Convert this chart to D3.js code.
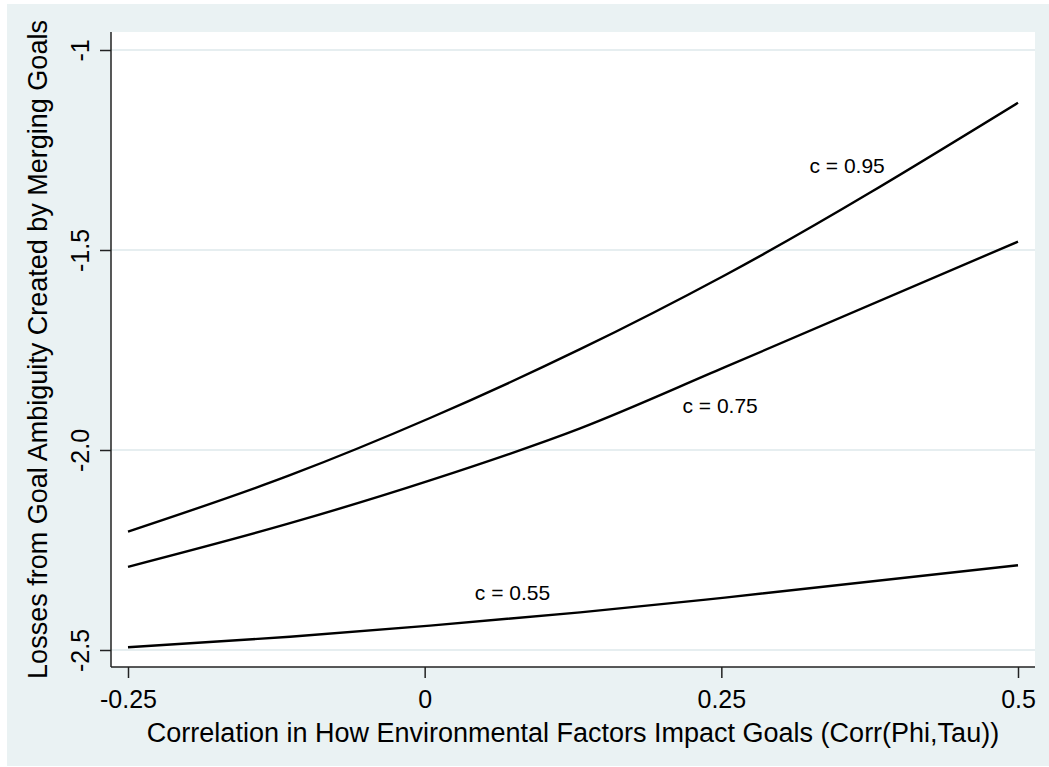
<!DOCTYPE html>
<html lang="en">
<head>
    <meta charset="UTF-8">
    <title>Losses from Goal Ambiguity</title>
    <script type="text/javascript" src="https://cdn.jsdelivr.net/npm/d3@7/dist/d3.min.js"></script>
</head>
<body style="margin:0;background:#ffffff;">
<style>
    body { font-family: "Liberation Sans", Arial, sans-serif; }
    .axis text { font-family: "Liberation Sans", Arial, sans-serif; fill: #000; }
</style>
<script>
    // values
    var corrX = [-0.25, -0.1135, 0.0045, 0.131, 0.253, 0.5];
    var lossC95 = [-2.204, -2.063, -1.920, -1.748, -1.563, -1.132];
    var lossC75 = [-2.292, -2.183, -2.076, -1.946, -1.793, -1.479];
    var lossC55 = [-2.493, -2.467, -2.439, -2.406, -2.369, -2.288];
    var seriesNames = ["c = 0.95", "c = 0.75", "c = 0.55"];
    // where each curve label sits (data coords)
    var labelX = [0.356, 0.249, 0.074];
    var labelY = [-1.3075, -1.9075, -2.375];
    var xTicks = [-0.25, 0, 0.25, 0.5];
    var xTickLabels = ["-0.25", "0", "0.25", "0.5"];
    var yTicks = [-1, -1.5, -2, -2.5];
    var yTickLabels = ["-1", "-1.5", "-2.0", "-2.5"];

    var W = 1049, H = 767;
    var plot = {left: 111, right: 1035, top: 32, bottom: 667};

    var svg = d3.select("body").append("svg")
        .attr("width", W)
        .attr("height", H)
        .style("display", "block");

    // graph region
    svg.append("rect")
        .attr("x", 7).attr("y", 4)
        .attr("width", W - 7).attr("height", H - 5)
        .attr("fill", "#eaf2f3");

    // plot region
    svg.append("rect")
        .attr("x", plot.left).attr("y", plot.top)
        .attr("width", plot.right - plot.left)
        .attr("height", plot.bottom - plot.top)
        .attr("fill", "#ffffff");

    var x = d3.scaleLinear().domain([-0.25, 0.5]).range([128, 1018]);
    var y = d3.scaleLinear().domain([-2.5, -1]).range([650, 50]);

    // grid
    svg.append("g").selectAll("line")
        .data(yTicks)
        .enter().append("line")
        .attr("x1", plot.left).attr("x2", plot.right)
        .attr("y1", function(d){ return y(d); })
        .attr("y2", function(d){ return y(d); })
        .attr("stroke", "#e6eef0")
        .attr("stroke-width", 2);

    // curves
    var series = [lossC95, lossC75, lossC55];
    var line = d3.line()
        .x(function(d){ return x(d[0]); })
        .y(function(d){ return y(d[1]); })
        .curve(d3.curveMonotoneX);

    svg.append("g").selectAll("path")
        .data(series)
        .enter().append("path")
        .attr("d", function(vals){ return line(d3.zip(corrX, vals)); })
        .attr("fill", "none")
        .attr("stroke", "#000")
        .attr("stroke-width", 2.4);

    svg.append("g").selectAll("text")
        .data(seriesNames)
        .enter().append("text")
        .attr("x", function(d, i){ return x(labelX[i]); })
        .attr("y", function(d, i){ return y(labelY[i]); })
        .attr("text-anchor", "middle")
        .attr("font-size", 21)
        .attr("fill", "#000")
        .text(function(d){ return d; });

    // axes
    var xAxis = d3.axisBottom(x)
        .tickValues(xTicks)
        .tickSize(11)
        .tickPadding(12)
        .tickFormat(function(d, i){ return xTickLabels[i]; });

    var gx = svg.append("g")
        .attr("class", "axis")
        .attr("transform", "translate(0," + plot.bottom + ")")
        .call(xAxis);
    gx.select(".domain").remove();
    gx.selectAll("line").attr("stroke", "#222").attr("stroke-width", 1.5);
    gx.selectAll("text").attr("font-size", 25);

    var yAxis = d3.axisLeft(y)
        .tickValues(yTicks)
        .tickSize(11)
        .tickFormat(function(d, i){ return yTickLabels[i]; });

    var gy = svg.append("g")
        .attr("class", "axis")
        .attr("transform", "translate(" + plot.left + ",0)")
        .call(yAxis);
    gy.select(".domain").remove();
    gy.selectAll("line").attr("stroke", "#222").attr("stroke-width", 1.5);
    gy.selectAll("text")
        .attr("font-size", 25)
        .attr("x", null).attr("dy", null)
        .attr("text-anchor", "middle")
        .attr("transform", "translate(-22,0) rotate(-90)");

    // axis lines
    svg.append("line")
        .attr("x1", plot.left).attr("x2", plot.left)
        .attr("y1", plot.top).attr("y2", plot.bottom)
        .attr("stroke", "#222").attr("stroke-width", 1.5);
    svg.append("line")
        .attr("x1", plot.left).attr("x2", plot.right)
        .attr("y1", plot.bottom).attr("y2", plot.bottom)
        .attr("stroke", "#222").attr("stroke-width", 1.5);

    // titles
    svg.append("text")
        .attr("x", (plot.left + plot.right) / 2)
        .attr("y", 742)
        .attr("text-anchor", "middle")
        .attr("font-size", 27)
        .attr("fill", "#000")
        .text("Correlation in How Environmental Factors Impact Goals (Corr(Phi,Tau))");

    svg.append("text")
        .attr("transform", "translate(47," + ((plot.top + plot.bottom) / 2) + ") rotate(-90)")
        .attr("text-anchor", "middle")
        .attr("font-size", 27)
        .attr("fill", "#000")
        .text("Losses from Goal Ambiguity Created by Merging Goals");
</script>
</body>
</html>
